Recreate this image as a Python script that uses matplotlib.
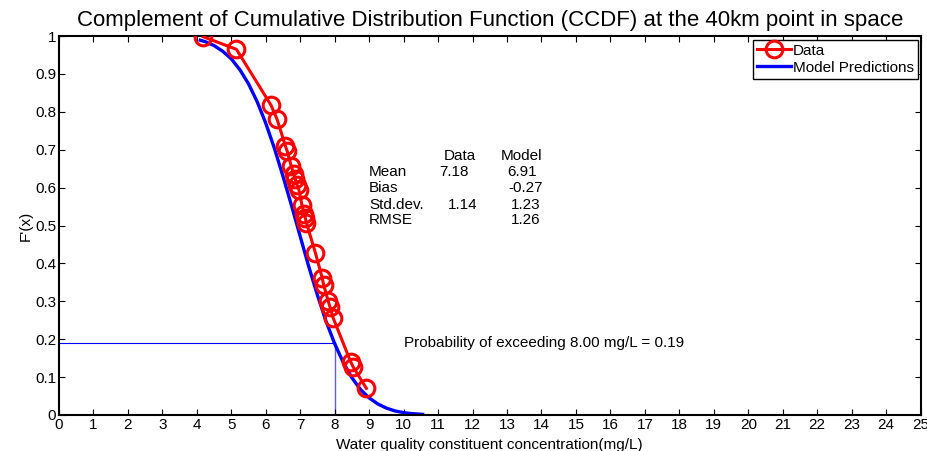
import matplotlib.pyplot as plt

plt.rcParams['font.family'] = ['Liberation Sans', 'DejaVu Sans']

data_x = [4.19, 5.15, 6.15, 6.33, 6.57, 6.62, 6.74, 6.81, 6.86, 6.91, 6.96, 7.05,
          7.12, 7.15, 7.18, 7.44, 7.64, 7.68, 7.81, 7.86, 7.96, 8.46, 8.54, 8.92]
data_y = [0.998, 0.965, 0.818, 0.780, 0.710, 0.697, 0.657, 0.636, 0.622, 0.607, 0.595, 0.554,
          0.530, 0.519, 0.507, 0.428, 0.361, 0.343, 0.301, 0.286, 0.255, 0.141, 0.126, 0.070]

# model prediction curve
model_x = [4.1, 4.25, 4.5, 4.75, 5.0, 5.25, 5.5, 5.75, 6.0, 6.25, 6.5, 6.75, 7.0, 7.25,
           7.5, 7.75, 8.0, 8.25, 8.5, 8.75, 9.0, 9.25, 9.5, 9.75, 10.0, 10.25, 10.55]
model_y = [0.989, 0.985, 0.975, 0.960, 0.940, 0.911, 0.874, 0.827, 0.770, 0.704, 0.630, 0.552,
           0.471, 0.391, 0.316, 0.247, 0.188, 0.138, 0.098, 0.067, 0.045, 0.029, 0.018,
           0.0105, 0.006, 0.0033, 0.0015]

threshold = 8.0
exceed_prob = 0.19

stat_rows = ['Mean', 'Bias', 'Std.dev.', 'RMSE']
stat_data = ['7.18', '', '1.14', '']
stat_model = ['6.91', '-0.27', '1.23', '1.26']

fig = plt.figure(figsize=(9.27, 4.51), dpi=100)
ax = fig.add_axes([0.0636, 0.080, 0.9295, 0.840])

ax.plot(data_x, data_y, color='red', lw=2.2, marker='o', ms=12, mfc='none',
        mew=2.2, label='Data', zorder=3)
ax.plot(model_x, model_y, color='blue', lw=2.4, label='Model Predictions', zorder=2)

ax.plot([0, threshold], [exceed_prob, exceed_prob], color='blue', lw=0.8, zorder=1)
ax.plot([threshold, threshold], [0, exceed_prob], color='#5a5aff', lw=1.0, zorder=1)

fs = 11
ax.text(10.0, exceed_prob, 'Probability of exceeding %.2f mg/L = %.2f' % (threshold, exceed_prob),
        fontsize=fs, va='center', ha='left')

# stats table
ax.text(11.15, 0.683, 'Data', fontsize=fs, va='center')
ax.text(12.83, 0.683, 'Model', fontsize=fs, va='center')
row_y = [0.641, 0.599, 0.554, 0.515]
data_col_x = [11.03, 0, 11.27, 0]
model_col_x = [13.01, 13.04, 13.1, 13.1]
for name, d, m, y, dx, mx in zip(stat_rows, stat_data, stat_model, row_y, data_col_x, model_col_x):
    ax.text(9.0, y, name, fontsize=fs, va='center')
    if d:
        ax.text(dx, y, d, fontsize=fs, va='center')
    ax.text(mx, y, m, fontsize=fs, va='center')

ax.set_xlim(0, 25)
ax.set_ylim(0, 1)
ax.set_xticks(range(0, 26))
ax.set_yticks([i / 10 for i in range(11)])
ax.set_yticklabels(['0', '0.1', '0.2', '0.3', '0.4', '0.5', '0.6', '0.7', '0.8', '0.9', '1'])
ax.tick_params(direction='in', top=True, right=True, length=4, labelsize=11, pad=2)
for s in ax.spines.values():
    s.set_linewidth(1.5)

ax.set_title('Complement of Cumulative Distribution Function (CCDF) at the 40km point in space',
             fontsize=16, pad=7)
ax.set_xlabel('Water quality constituent concentration(mg/L)', fontsize=fs)
ax.xaxis.set_label_coords(0.5, -0.062)
ax.set_ylabel("F'(x)", fontsize=fs, labelpad=2)

leg = ax.legend(loc='upper right', bbox_to_anchor=(0.997, 0.99), borderaxespad=0,
                fontsize=fs, fancybox=False, framealpha=1, edgecolor='black',
                handlelength=2.2, borderpad=0.25, labelspacing=0.2, handletextpad=0.15)
leg.get_frame().set_linewidth(1.0)

fig.savefig('out.png', dpi=100)
